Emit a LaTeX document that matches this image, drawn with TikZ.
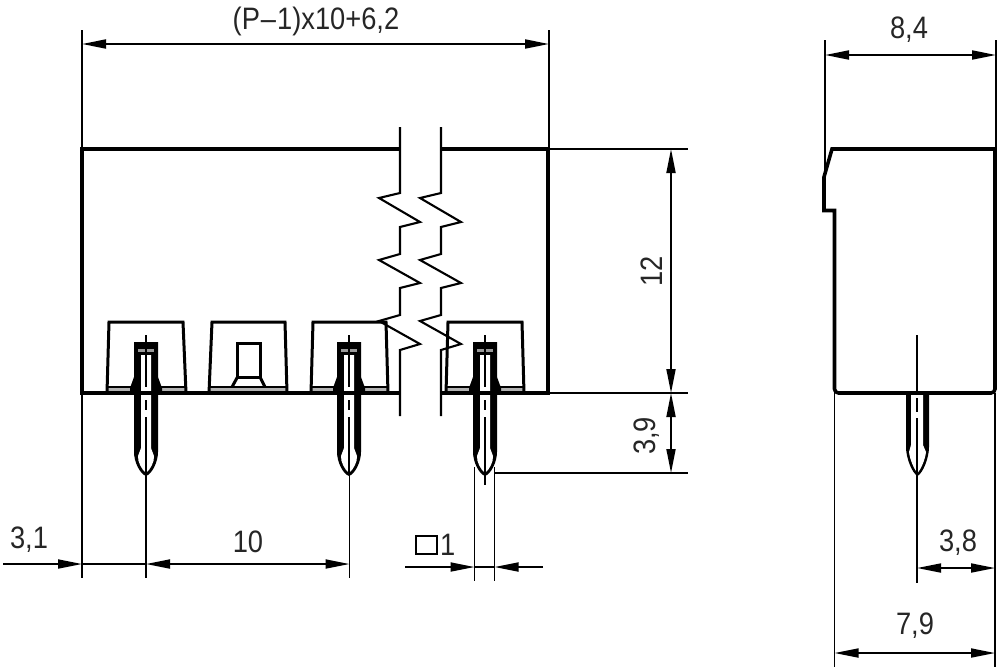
\documentclass[tikz,border=0pt]{standalone}
\usepackage{fontspec}
\setmainfont[FakeStretch=0.88]{Liberation Sans}
\usetikzlibrary{arrows.meta}
\tikzset{
  thick line/.style={line width=3.6pt,line join=miter,line cap=butt},
  mid line/.style={line width=3pt,line join=miter},
  thin line/.style={line width=1.8pt},
  dim line/.style={line width=1.8pt},
  dimtip/.tip={Triangle[length=24pt,width=9pt]},
  dim label/.style={font=\fontsize{31}{31}\selectfont,inner sep=0pt,text=black!85},
}
\newcommand{\pinfull}[1]{%
\begin{scope}[shift={(#1,0)}]
  \fill[black] (-12,342) -- (12,342) -- (12,377) -- (16,388) -- (16,393) -- (12,393) -- (12,452) .. controls (12,462) and (6,474) .. (0,476) .. controls (-6,474) and (-12,462) .. (-12,452) -- (-12,393) -- (-16,393) -- (-16,388) -- (-12,377) -- cycle;
  \fill[white] (-5,355) -- (5,355) -- (5,448) -- (8,456) .. controls (8.5,462) and (4,470) .. (0,473) .. controls (-4,470) and (-8.5,462) .. (-8,456) -- (-5,448) -- cycle;
  \fill[black!40] (-8,349) rectangle (8,352);
  \draw[thin line] (0,335) -- (0,352);
  \draw[thin line] (0,355) -- (0,387);
  \draw[thin line] (0,400) -- (0,410);
  \draw[thin line] (0,417) -- (0,475);
\end{scope}}
\newcommand{\window}[4]{%
  \fill[black!30] (#1,388) rectangle (#4,392);
  \draw[mid line] (#1,393) -- (#2,322) -- (#3,322) -- (#4,393);
  \draw[line width=2.2pt] (#1,387) -- (#4,387);}
\begin{document}
\begin{tikzpicture}[x=1pt,y=-1pt]
\useasboundingbox (0,0) rectangle (1000,670);
\fill[white] (0,0) rectangle (1000,670);
% ---- windows
\window{107}{109}{183}{186}
\window{209}{212}{285}{287}
\window{311}{313}{386}{388}
\window{446}{448}{522}{524}
% ---- centre window detail
\draw[mid line,fill=white] (237.5,343) rectangle (260,377);
\draw[mid line] (232,387) -- (237.5,377) (260,377) -- (265,387);
% ---- pins
\pinfull{146}
\pinfull{349}
\pinfull{485}
% ---- body
\draw[thick line] (400,149) -- (82,149) -- (82,393) -- (400,393);
\draw[thick line] (441,149) -- (548,149) -- (548,393) -- (441,393);
% ---- break lines
\draw[line width=2.1pt,line join=miter] (400,127) -- (400,193) -- (379,198) -- (420,222) -- (400,227) -- (400,254) -- (379,260) -- (420,283) -- (400,288) -- (400,315) -- (379,321) -- (420,344) -- (400,350) -- (400,416);
\draw[line width=2.1pt,line join=miter] (441,127) -- (441,193) -- (420,198) -- (461,222) -- (441,227) -- (441,254) -- (420,260) -- (461,283) -- (441,288) -- (441,315) -- (420,321) -- (461,344) -- (441,350) -- (441,416);
% ---- side view
\draw[thick line] (995,149) -- (832,149) -- (824,177) -- (824,210.5) -- (834.5,210.5) -- (834.5,387) [rounded corners=4pt] -- (834.5,393) -- (995,393) [rounded corners=0pt] -- (995,387) -- cycle;
\fill[black] (906,395) -- (929,395) -- (929,447) .. controls (929,458) and (923,473) .. (917.5,476) .. controls (912,473) and (906,458) .. (906,447) -- cycle;
\fill[white] (911,395) -- (923,395) -- (923,445) -- (926,452) .. controls (925,460) and (921,469) .. (917.5,473) .. controls (914,469) and (910,460) .. (909,452) -- (911,445) -- cycle;
\draw[thin line] (917,335) -- (917,394);
\draw[thin line] (917,398) -- (917,412);
\draw[thin line] (917,418) -- (917,583);
% ---- extension lines
\draw[thin line] (82,30) -- (82,149);
\draw[thin line] (549,30) -- (549,149);
\draw[thin line] (549,149) -- (688,149);
\draw[thin line] (549,393) -- (688,393);
\draw[thin line] (494,473) -- (688,473);
\draw[thin line] (82,393) -- (82,578);
\draw[thin line] (146,475) -- (146,578);
\draw[thin line] (349.5,475) -- (349.5,578);
\draw[thin line] (485,475) -- (485,485);
\draw[thin line] (474.5,467) -- (474.5,581);
\draw[thin line] (494.5,467) -- (494.5,581);
\draw[thin line] (825,40) -- (825,177);
\draw[thin line] (996,40) -- (996,149);
\draw[thin line] (834.5,393) -- (834.5,667);
\draw[thin line] (995,393) -- (995,667);
% ---- dimension anchors
\coordinate (tl) at (82,44);   \coordinate (tr) at (549,44);
\coordinate (ha) at (671,149); \coordinate (hb) at (671,393); \coordinate (hc) at (671,473);
\coordinate (ol) at (3,564);   \coordinate (oa) at (82,564);  \coordinate (ob) at (146,564); \coordinate (oc) at (349.5,564);
\coordinate (pl) at (405,567); \coordinate (pa) at (474.5,567); \coordinate (pb) at (494.5,567); \coordinate (pr) at (543,567);
\coordinate (sl) at (825,55);  \coordinate (sr) at (996,55);
\coordinate (ma) at (917,568); \coordinate (mb) at (995,568);
\coordinate (na) at (834.5,653); \coordinate (nb) at (995,653);
% ---- dimension lines
\draw[dim line,{dimtip}-{dimtip}] (tl) -- (tr);
\draw[dim line,{dimtip}-{dimtip}] (ha) -- (hb);
\draw[dim line,{dimtip}-{dimtip}] (hb) -- (hc);
\draw[dim line,-{dimtip}] (ol) -- (oa);
\draw[dim line] (oa) -- (ob);
\draw[dim line,{dimtip}-{dimtip}] (ob) -- (oc);
\draw[dim line,-{dimtip}] (pl) -- (pa);
\draw[dim line,-{dimtip}] (pr) -- (pb);
\draw[dim line] (pa) -- (pb);
\draw[dim line,{dimtip}-{dimtip}] (sl) -- (sr);
\draw[dim line,{dimtip}-{dimtip}] (ma) -- (mb);
\draw[dim line,{dimtip}-{dimtip}] (na) -- (nb);
% ---- labels
\node[dim label] (ltop) at (316,21) {(P{\kern1pt}–{\kern1pt}1)x10+6,2};
\node[dim label,rotate=90] (ltwelve) at (652,271) {12};
\node[dim label,rotate=90] (lthreenine) at (647,436) {3,9};
\node[dim label] (lthreeone) at (29,540) {3,1};
\node[dim label] (lten) at (248,542) {10};
\node[dim label,anchor=west] (lone) at (440,545) {1};
\draw[line width=2pt] (415.5,535.5) rectangle (436.5,554);
\node[dim label] (leightfour) at (909,30) {8,4};
\node[dim label] (lthreeeight) at (958,543) {3,8};
\node[dim label] (lsevennine) at (915,626) {7,9};
\end{tikzpicture}
\end{document}
